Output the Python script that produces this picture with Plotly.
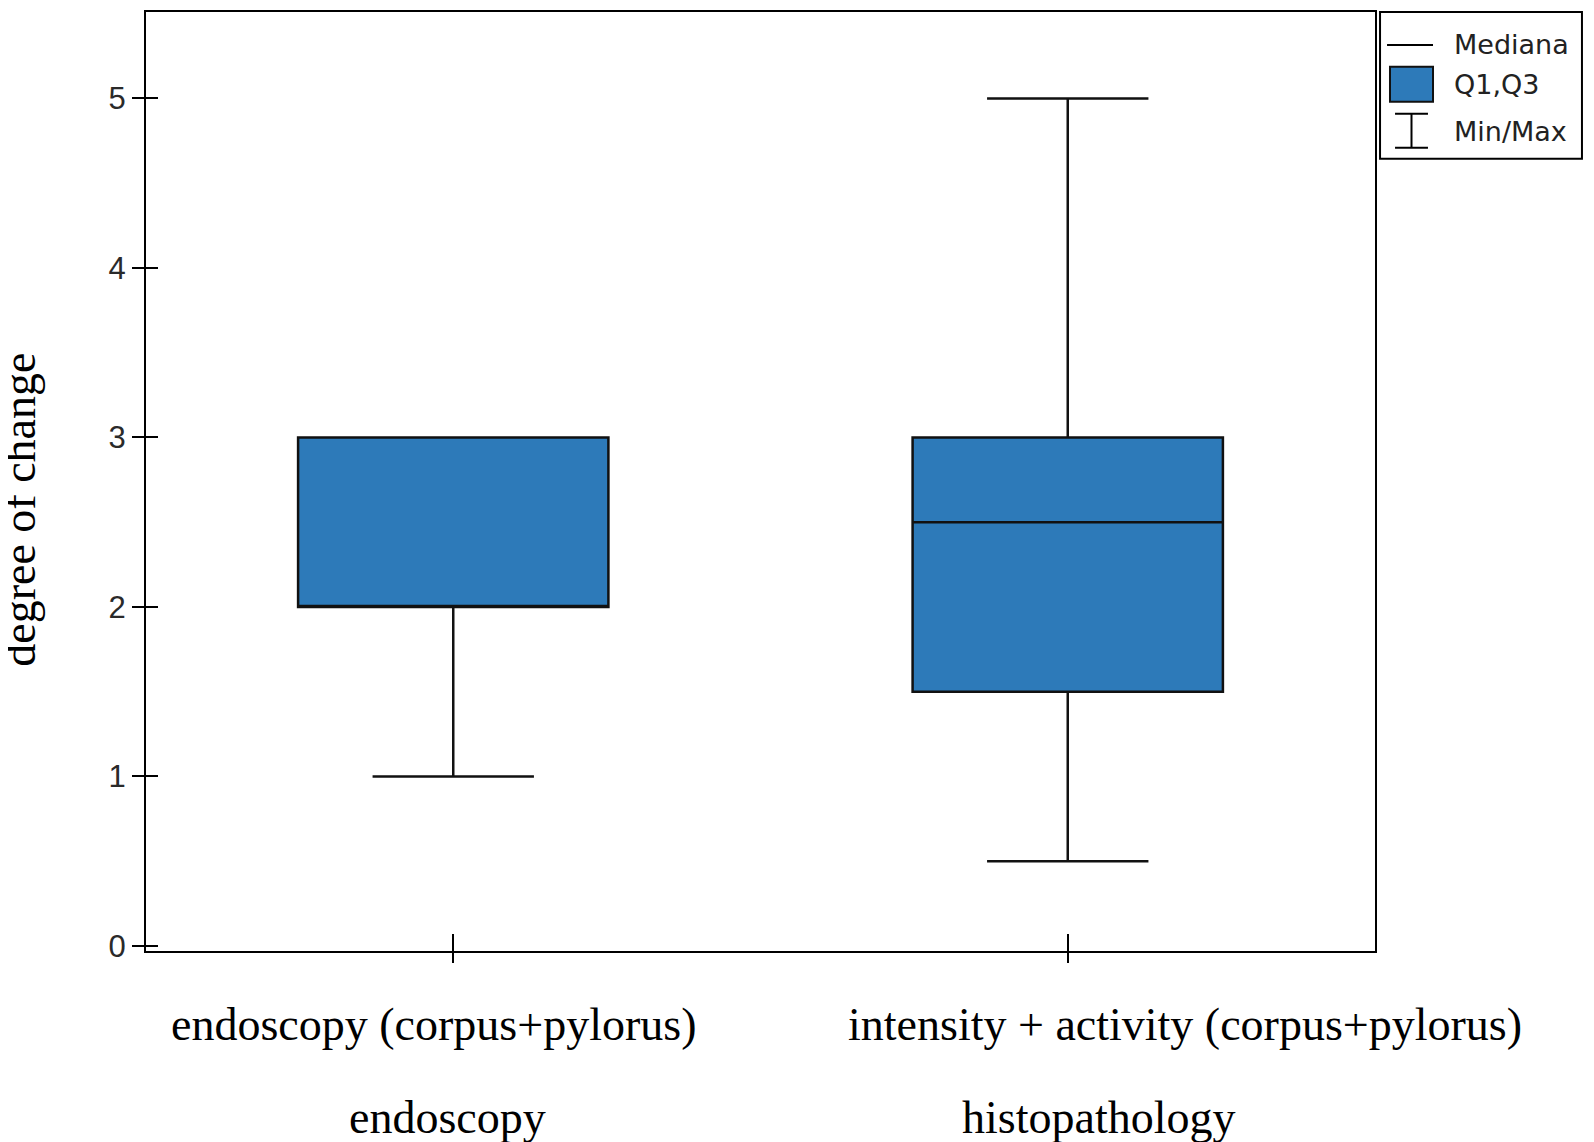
import plotly.graph_objects as go

# ---- data ----
positions = [0, 1]
group_labels = ["endoscopy (corpus+pylorus)", "intensity + activity (corpus+pylorus)"]
method_labels = ["endoscopy", "histopathology"]
q1 = [2.0, 1.5]
median = [2.0, 2.5]
q3 = [3.0, 3.0]
minimum = [1.0, 0.5]
maximum = [3.0, 5.0]
y_ticks = [0, 1, 2, 3, 4, 5]
legend_labels = ["Mediana", "Q1,Q3", "Min/Max"]
y_title = "degree of change"

BLUE = "#2D7AB9"
SERIF = "Liberation Serif, Times New Roman, serif"
SANS = "DejaVu Sans, sans-serif"

fig = go.Figure()
fig.add_trace(go.Box(
    x=positions, q1=q1, median=median, q3=q3,
    lowerfence=minimum, upperfence=maximum,
    width=0.505, whiskerwidth=0.52,
    fillcolor=BLUE, line=dict(color="#111111", width=2.5),
    boxpoints=False, showlegend=False,
))
# empty trace to host overlay axes (inner tick marks)
fig.add_trace(go.Scatter(x=[], y=[], xaxis="x2", yaxis="y2", showlegend=False, hoverinfo="skip"))

xr = [-0.5, 1.5]
yr = [-0.03, 5.51]

fig.update_layout(
    width=1586, height=1134,
    margin=dict(l=138, r=219, t=2, b=191),
    plot_bgcolor="white", paper_bgcolor="white",
    showlegend=False,
    xaxis=dict(range=xr, tickvals=positions, showticklabels=False,
               ticks="outside", ticklen=10, tickwidth=2, tickcolor="black",
               showline=True, linecolor="black", linewidth=2, mirror=True,
               showgrid=False, zeroline=False),
    yaxis=dict(range=yr, tickvals=y_ticks, ticks="outside", ticklen=12, tickwidth=2,
               tickcolor="black", showline=True, linecolor="black", linewidth=2, mirror=True,
               showgrid=False, zeroline=False,
               tickfont=dict(family="Liberation Sans, Arial, sans-serif", size=31, color="#2a2a2a")),
    xaxis2=dict(range=xr, overlaying="x", anchor="y2", side="bottom", tickvals=positions,
                showticklabels=False, ticks="inside", ticklen=17, tickwidth=2, tickcolor="black",
                showline=False, showgrid=False, zeroline=False),
    yaxis2=dict(range=yr, overlaying="y", anchor="x2", side="left", tickvals=y_ticks,
                showticklabels=False, ticks="inside", ticklen=12, tickwidth=2, tickcolor="black",
                showline=False, showgrid=False, zeroline=False),
)

# category labels (two rows)
row1_shift = [-20, 117]
row2_shift = [-6, 31]
for i, p in enumerate(positions):
    fig.add_annotation(x=p, xref="x", y=-0.0786, yref="paper", text=group_labels[i],
                       showarrow=False, xanchor="center", yanchor="middle", xshift=row1_shift[i],
                       font=dict(family=SERIF, size=46, color="black"))
    fig.add_annotation(x=p, xref="x", y=-0.1775, yref="paper", text=method_labels[i],
                       showarrow=False, xanchor="center", yanchor="middle", xshift=row2_shift[i],
                       font=dict(family=SERIF, size=46, color="black"))

# y-axis title
fig.add_annotation(x=-0.1025, xref="paper", y=0.47, yref="paper", text=y_title, textangle=-90,
                   showarrow=False, xanchor="center", yanchor="middle",
                   font=dict(family=SERIF, size=46, color="black"))

# manual legend
shapes = [
    dict(type="rect", xref="paper", yref="paper", x0=1.0041, x1=1.1684, y0=0.8438, y1=1.0,
         line=dict(color="black", width=2), fillcolor="white"),
    dict(type="line", xref="paper", yref="paper", x0=1.0098, x1=1.0472, y0=0.9649, y1=0.9649,
         line=dict(color="black", width=2)),
    dict(type="rect", xref="paper", yref="paper", x0=1.0122, x1=1.0472, y0=0.9044, y1=0.9416,
         line=dict(color="#111111", width=2), fillcolor=BLUE),
    dict(type="line", xref="paper", yref="paper", x0=1.0163, x1=1.0431, y0=0.8916, y1=0.8916,
         line=dict(color="black", width=2)),
    dict(type="line", xref="paper", yref="paper", x0=1.0163, x1=1.0431, y0=0.8555, y1=0.8555,
         line=dict(color="black", width=2)),
    dict(type="line", xref="paper", yref="paper", x0=1.0297, x1=1.0297, y0=0.8555, y1=0.8916,
         line=dict(color="black", width=2)),
]
fig.update_layout(shapes=shapes)
for lbl, yy in zip(legend_labels, [0.9649, 0.9224, 0.8730]):
    fig.add_annotation(x=1.0627, xref="paper", y=yy, yref="paper", text=lbl, showarrow=False,
                       xanchor="left", yanchor="middle",
                       font=dict(family=SANS, size=27, color="#222222"))

fig.write_html("out.html")
